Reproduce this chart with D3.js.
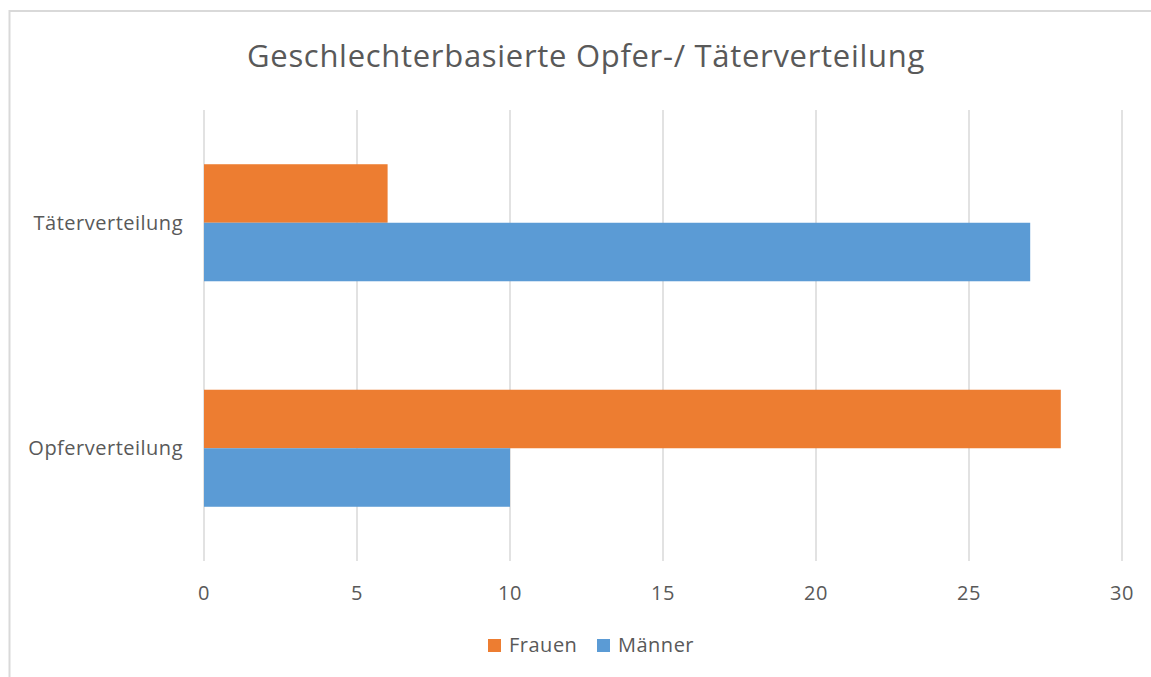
<!DOCTYPE html>
<html>
<head>
<meta charset="utf-8">
<script src="https://cdn.jsdelivr.net/npm/d3@7"></script>
<style>
  body { margin: 0; background: #fff; }
  text { font-family: "Open Sans", "Noto Sans", sans-serif; fill: #595959; }
</style>
</head>
<body>
<div id="chart"></div>
<script>
// chart data
const categories = ["Täterverteilung", "Opferverteilung"];
const seriesNames = ["Frauen", "Männer"];
const frauen = [6, 28];
const maenner = [27, 10];
const xTicks = [0, 5, 10, 15, 20, 25, 30];
const title = "Geschlechterbasierte Opfer-/ Täterverteilung";

const colors = { "Frauen": "#ED7D31", "Männer": "#5B9BD5" };

const W = 1151, H = 677;
const plot = { left: 204, right: 1122, top: 110, bottom: 561 };

const svg = d3.select("#chart").append("svg")
  .attr("width", W)
  .attr("height", H);

// outer chart border
svg.append("rect")
  .attr("x", 9.5).attr("y", 11)
  .attr("width", W + 20).attr("height", H + 20)
  .attr("fill", "#fff")
  .attr("stroke", "#d9d9d9")
  .attr("stroke-width", 2);

// scales
const x = d3.scaleLinear()
  .domain([0, 30])
  .range([plot.left, plot.right]);

const y = d3.scaleBand()
  .domain(categories)
  .range([plot.top, plot.bottom])
  .paddingInner(0.481)
  .paddingOuter(0.2405);

const ySub = d3.scaleBand()
  .domain(seriesNames)
  .range([0, y.bandwidth()]);

// gridlines
svg.append("g").selectAll("line")
  .data(xTicks)
  .enter()
  .append("line")
  .attr("x1", d => x(d)).attr("x2", d => x(d))
  .attr("y1", plot.top).attr("y2", plot.bottom)
  .attr("stroke", "#d9d9d9")
  .attr("stroke-width", 1.5);

// tick labels
svg.append("g").selectAll("text")
  .data(xTicks)
  .enter()
  .append("text")
  .attr("x", d => x(d))
  .attr("y", 600)
  .attr("text-anchor", "middle")
  .attr("font-size", 20)
  .attr("letter-spacing", 0.5)
  .text(d => d);

// bars
const rows = categories.map((c, i) => ({
  category: c,
  values: [
    { name: "Frauen", value: frauen[i] },
    { name: "Männer", value: maenner[i] }
  ]
}));

const groups = svg.append("g").selectAll("g")
  .data(rows)
  .enter()
  .append("g")
  .attr("transform", d => "translate(0," + y(d.category) + ")");

groups.selectAll("rect")
  .data(d => d.values)
  .enter()
  .append("rect")
  .attr("x", x(0))
  .attr("y", d => ySub(d.name))
  .attr("width", d => x(d.value) - x(0))
  .attr("height", ySub.bandwidth())
  .attr("fill", d => colors[d.name]);

// category labels
svg.append("g").selectAll("text")
  .data(categories)
  .enter()
  .append("text")
  .attr("x", 183)
  .attr("y", d => y(d) + y.bandwidth() / 2)
  .attr("dy", "0.35em")
  .attr("text-anchor", "end")
  .attr("font-size", 20)
  .attr("letter-spacing", 0.5)
  .text(d => d);

// title
svg.append("text")
  .attr("x", 586)
  .attr("y", 67)
  .attr("text-anchor", "middle")
  .attr("font-size", 31)
  .attr("letter-spacing", 0.7)
  .text(title);

// legend
const legendX = [488, 597];
const legend = svg.append("g").selectAll("g")
  .data(seriesNames)
  .enter()
  .append("g")
  .attr("transform", (d, i) => "translate(" + legendX[i] + ",639)");

legend.append("rect")
  .attr("width", 13).attr("height", 13)
  .attr("fill", d => colors[d]);

legend.append("text")
  .attr("x", 21)
  .attr("y", 13)
  .attr("font-size", 20)
  .attr("letter-spacing", 0.5)
  .text(d => d);
</script>
</body>
</html>
